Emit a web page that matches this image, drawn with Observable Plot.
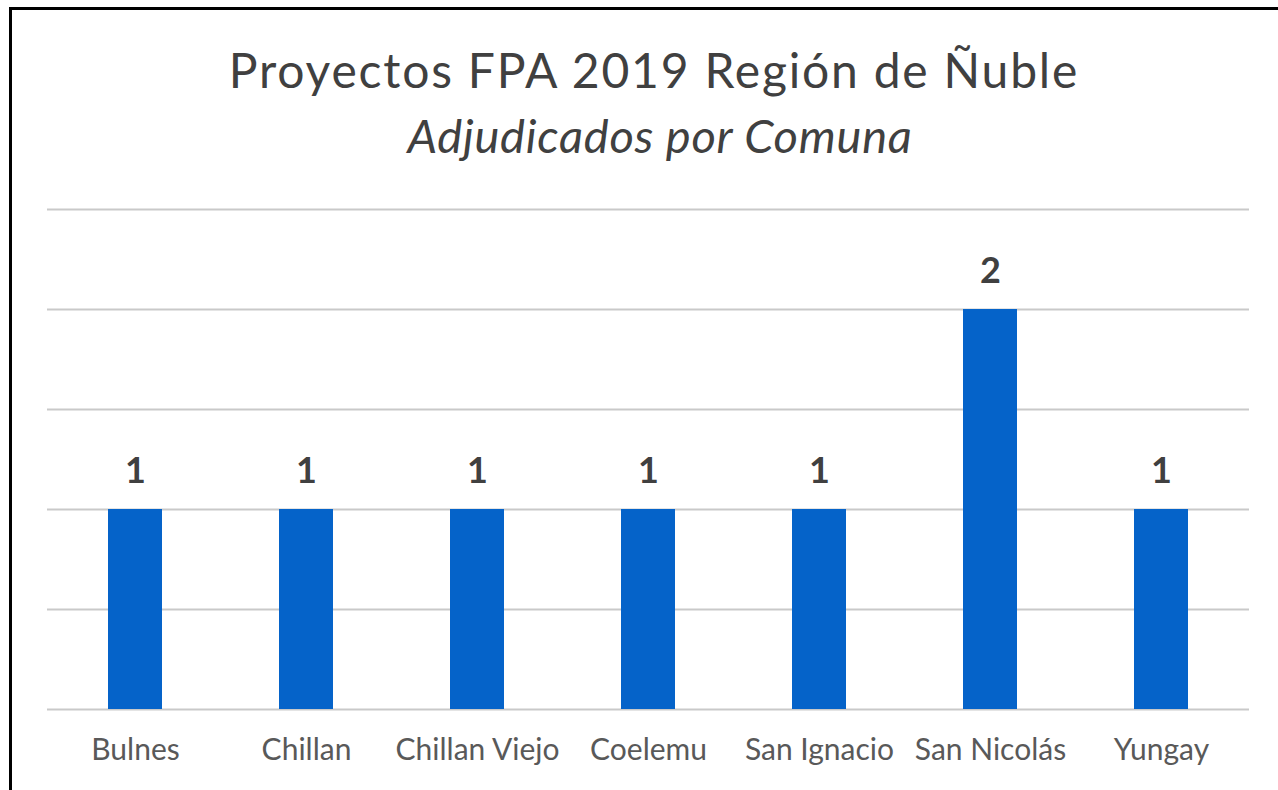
<!DOCTYPE html>
<html>
<head>
<meta charset="utf-8">
<script src="https://cdn.jsdelivr.net/npm/d3@7"></script>
<script src="https://cdn.jsdelivr.net/npm/@observablehq/plot@0.6"></script>
<style>
  html, body { margin: 0; padding: 0; background: #fff; }
  body { width: 1278px; height: 790px; position: relative; overflow: hidden; font-family: Lato, sans-serif; }
  #frame { position: absolute; left: 9px; top: 7px; width: 1300px; height: 820px; border-left: 3px solid #000; border-top: 3px solid #000; box-sizing: border-box; }
  #titles { position: absolute; left: 0; top: 0; }
  #chart { position: absolute; left: 0; top: 0; }
</style>
</head>
<body>
<div id="frame"></div>
<div id="chart"></div>
<svg id="titles" width="1278" height="190" xmlns="http://www.w3.org/2000/svg">
  <text x="654" y="88" text-anchor="middle" font-family="Lato, sans-serif" font-size="48" letter-spacing="1.8" fill="#404040">Proyectos FPA 2019 Región de Ñuble</text>
  <text x="660" y="153" text-anchor="middle" font-family="Lato, sans-serif" font-size="47" font-style="italic" letter-spacing="0.75" fill="#404040">Adjudicados por Comuna</text>
</svg>
<script>
const comunas = ["Bulnes", "Chillan", "Chillan Viejo", "Coelemu", "San Ignacio", "San Nicolás", "Yungay"];
const proyectos = [1, 1, 1, 1, 1, 2, 1];
const gridTicks = [0, 0.5, 1, 1.5, 2, 2.5];

const data = comunas.map((c, i) => ({comuna: c, valor: proyectos[i]}));

const chart = Plot.plot({
  width: 1278,
  height: 790,
  marginLeft: 47,
  marginRight: 29,
  marginTop: 209,
  marginBottom: 81,
  style: {fontFamily: "Lato, sans-serif", background: "transparent", color: "#595959"},
  x: {domain: comunas, paddingInner: 0.685, paddingOuter: 0.3425, label: null, tickSize: 0},
  y: {domain: [0, 2.5], axis: null},
  marks: [
    Plot.ruleY(gridTicks, {stroke: "#c9c9c9", strokeWidth: 2}),
    Plot.barY(data, {x: "comuna", y: "valor", fill: "#0563C9"}),
    Plot.text(data, {x: "comuna", y: "valor", text: d => String(d.valor), dy: -38, fontSize: 36, fontWeight: "bold", fill: "#404040"}),
    Plot.axisX({tickSize: 0, tickPadding: 29, fontSize: 30, fill: "#595959", label: null})
  ]
});
document.getElementById("chart").appendChild(chart);
</script>
</body>
</html>
